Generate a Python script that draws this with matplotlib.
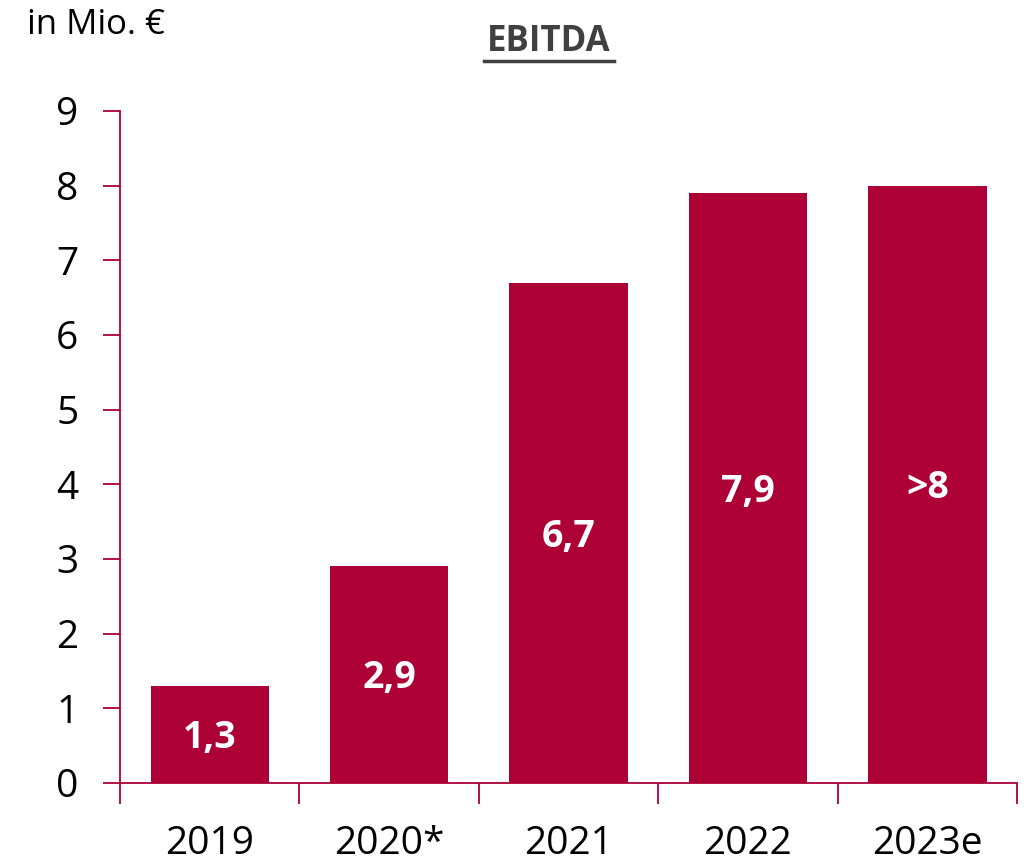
import numpy as np
import matplotlib.pyplot as plt
from matplotlib.lines import Line2D

plt.rcParams['font.family'] = ['Open Sans', 'DejaVu Sans']

# Data
years = ['2019', '2020*', '2021', '2022', '2023e']
ebitda = [1.3, 2.9, 6.7, 7.9, 8.0]
labels = ['1,3', '2,9', '6,7', '7,9', '>8']

red = '#AD0036'

fig = plt.figure(figsize=(10.24, 8.65), dpi=100)
ax = fig.add_axes([0.1172, 0.0948, 0.8760, 0.7769])

x = np.arange(len(years))
bars = ax.bar(x, ebitda, width=0.66, color=red)
for b, lab in zip(bars, labels):
    ax.text(b.get_x() + b.get_width() / 2, b.get_height() / 2 - 0.05, lab,
            ha='center', va='center', color='white', fontsize=27, fontweight='bold')

ax.set_xlim(-0.5, len(years) - 0.5)
ax.set_ylim(0, 9)
ax.set_yticks(range(10))
ax.set_xticks(x)
ax.set_xticklabels(years)
ax.set_xticks(np.arange(-0.5, len(years), 1), minor=True)
ax.tick_params(axis='x', which='major', length=0, pad=30, labelsize=28)
ax.tick_params(axis='x', which='minor', length=15, width=1.3, color=red, direction='out')
ax.tick_params(axis='y', length=12, width=1.3, color=red, pad=18, labelsize=28)

for s in ['top', 'right']:
    ax.spines[s].set_visible(False)
for s in ['left', 'bottom']:
    ax.spines[s].set_color(red)
    ax.spines[s].set_linewidth(1.3)

fig.text(0.026, 0.971, 'in Mio. €', fontsize=25, va='center', ha='left')
fig.text(0.536, 0.952, 'EBITDA', fontsize=25, fontweight='bold', color='#404040',
         ha='center', va='center')
fig.add_artist(Line2D([0.473, 0.600], [0.929, 0.929], color='#404040', lw=2.5))

plt.savefig('out.png', dpi=100)
